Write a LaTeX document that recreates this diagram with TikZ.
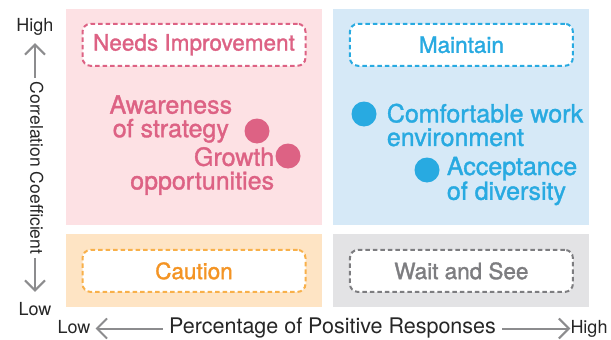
\documentclass[tikz,border=0pt]{standalone}
\usepackage{fontspec}
\setmainfont{TeX Gyre Heros}
\newfontface\medfont[FakeBold=1.4]{TeX Gyre Heros}
\usetikzlibrary{positioning}
\usetikzlibrary{arrows.meta}

\definecolor{impfill}{RGB}{253,225,228}
\definecolor{impcol}{RGB}{221,98,132}
\definecolor{mntfill}{RGB}{214,233,247}
\definecolor{mntcol}{RGB}{40,170,225}
\definecolor{cautfill}{RGB}{254,228,196}
\definecolor{cautcol}{RGB}{244,148,36}
\definecolor{cautline}{RGB}{248,176,74}
\definecolor{waitfill}{RGB}{227,227,229}
\definecolor{waitcol}{RGB}{125,125,128}
\definecolor{axcol}{RGB}{140,140,142}

\begin{document}
\begin{tikzpicture}[x=1pt,y=-1pt,
	quadrant/.style={rectangle, minimum width=256pt, inner sep=0pt},
	tagbox/.style={rectangle, rounded corners=8pt, fill=white, line width=2pt, dash pattern=on 4.5pt off 3pt, minimum width=223pt, minimum height=42pt, font=\medfont\fontsize{22.5}{24}\selectfont},
	ptdot/.style={circle, minimum size=25pt, inner sep=0pt},
	dotlbl/.style={inner sep=0pt, font=\medfont\fontsize{25}{23.6}\selectfont},
	axtext/.style={inner sep=0pt, text height=13pt, text depth=4pt, text=black!85},
	axarrow/.style={axcol, line width=2pt, shorten <=6pt, shorten >=5pt, -{Straight Barb[length=10pt,width=20pt]}}]
	\useasboundingbox (0,0) rectangle (611,340);
	% quadrants
	\node[quadrant, fill=impfill, minimum height=216pt] (qimprove) at (194,117) {};
	\node[quadrant, fill=mntfill, minimum height=216pt] (qmaintain) [right = 11pt of qimprove] {};
	\node[quadrant, fill=cautfill, minimum height=73pt] (qcaution) [below = 9pt of qimprove] {};
	\node[quadrant, fill=waitfill, minimum height=73pt] (qwait) [below = 9pt of qmaintain] {};
	\node[tagbox, draw=impcol, text=impcol] (improve) [below = 14pt of qimprove.north] {Needs Improvement};
	\node[tagbox, draw=mntcol, text=mntcol] (maintain) [below = 14pt of qmaintain.north] {Maintain};
	\node[tagbox, draw=cautline, text=cautcol] (caution) at (qcaution) {Caution};
	\node[tagbox, draw=waitcol, text=waitcol] (wait) at (qwait) {Wait and See};
	% items
	\node[ptdot, fill=impcol] (strategy) at (257,131) {};
	\node[ptdot, fill=impcol] (growth) at (288,156) {};
	\node[ptdot, fill=mntcol] (comfort) at (364,114) {};
	\node[ptdot, fill=mntcol] (diversity) at (427,170) {};
	\node[dotlbl, text=impcol, align=center, yshift=12pt] (strategylbl) [left = 12pt of strategy] {Awareness\\of strategy};
	\node[dotlbl, text=impcol, align=right, yshift=-15pt] (growthlbl) [left = 1pt of growth] {Growth\\opportunities};
	\node[dotlbl, text=mntcol, align=left, yshift=-11pt] (comfortlbl) [right = 10pt of comfort] {Comfortable work\\environment};
	\node[dotlbl, text=mntcol, align=left, yshift=-11pt] (diversitylbl) [right = 7pt of diversity] {Acceptance\\of diversity};
	% axes
	\node[axtext, font=\fontsize{18}{20}\selectfont] (yhigh) at (35,27) {High};
	\node[axtext, font=\fontsize{18}{20}\selectfont] (ylow) at (35,311) {Low};
	\node[axtext, font=\fontsize{17.5}{20}\selectfont, rotate=-90] (ylabel) at (35,168) {Correlation Coefficient};
	\node[axtext, font=\fontsize{18}{20}\selectfont] (xlow) at (74,328.5) {Low};
	\node[axtext, font=\fontsize{21.5}{24}\selectfont] (xlabel) at (332.5,328.5) {Percentage of Positive Responses};
	\node[axtext, font=\fontsize{18}{20}\selectfont] (xhigh) at (589,328.5) {High};
	\draw[axarrow, shorten <=4pt, shorten >=7.5pt] (ylabel.west) -- (yhigh.south);
	\draw[axarrow, shorten <=3.5pt, shorten >=10.5pt] (ylabel.east) -- (ylow.north);
	\draw[axarrow] (xlabel.west) -- (xlow.east);
	\draw[axarrow, shorten >=0pt] (xlabel.east) -- (xhigh.west);
\end{tikzpicture}
\end{document}
